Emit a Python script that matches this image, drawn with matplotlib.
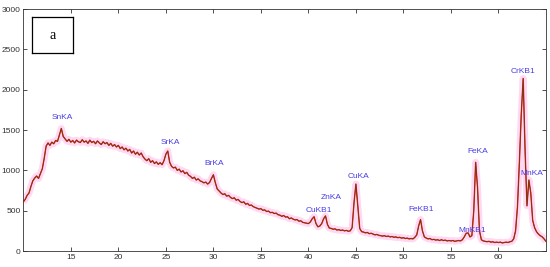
import numpy as np
import matplotlib
matplotlib.use("Agg")
import matplotlib.pyplot as plt

# energy grid (keV), 0.2 steps from 10 to 65
energy = np.round(np.arange(10.0, 65.01, 0.2), 1)

# counts, one value per energy step
counts = [
    610, 640, 690, 720, 800, 870, 905, 930, 900, 960,            # 10.0 - 11.8
    1020, 1150, 1300, 1340, 1310, 1350, 1330, 1370, 1360, 1440,  # 12.0 - 13.8
    1520, 1420, 1390, 1360, 1385, 1350, 1370, 1340, 1375, 1355,  # 14.0 - 15.8
    1345, 1380, 1350, 1365, 1335, 1375, 1345, 1360, 1330, 1365,  # 16.0 - 17.8
    1340, 1320, 1355, 1330, 1345, 1310, 1335, 1300, 1320, 1290,  # 18.0 - 19.8
    1310, 1270, 1290, 1255, 1275, 1240, 1260, 1215, 1240, 1200,  # 20.0 - 21.8
    1225, 1190, 1215, 1170, 1140, 1120, 1145, 1100, 1120, 1085,  # 22.0 - 23.8
    1105, 1075, 1095, 1070, 1120, 1200, 1240, 1100, 1050, 1030,  # 24.0 - 25.8
    1040, 1000, 1015, 980, 995, 960, 975, 940, 925, 900,         # 26.0 - 27.8
    915, 880, 895, 870, 860, 845, 855, 830, 850, 900,            # 28.0 - 29.8
    945, 850, 770, 745, 720, 700, 710, 680, 690, 665,            # 30.0 - 31.8
    650, 660, 630, 640, 615, 600, 610, 580, 590, 565,            # 32.0 - 33.8
    570, 550, 540, 530, 520, 525, 505, 510, 490, 495,            # 34.0 - 35.8
    475, 480, 465, 470, 450, 445, 430, 440, 420, 425,            # 36.0 - 37.8
    400, 410, 395, 385, 390, 370, 375, 355, 350, 345,            # 38.0 - 39.8
    340, 360, 400, 425, 340, 300, 310, 340, 400, 435,            # 40.0 - 41.8
    330, 285, 280, 270, 275, 260, 265, 255, 260, 250,            # 42.0 - 43.8
    255, 245, 250, 290, 600, 830, 560, 280, 240, 235,            # 44.0 - 45.8
    225, 230, 215, 220, 210, 200, 205, 195, 190, 185,            # 46.0 - 47.8
    190, 180, 185, 175, 180, 170, 175, 165, 170, 160,            # 48.0 - 49.8
    165, 155, 160, 150, 155, 150, 170, 200, 310, 390,            # 50.0 - 51.8
    250, 175, 160, 150, 155, 140, 145, 135, 140, 130,            # 52.0 - 53.8
    140, 130, 135, 125, 130, 125, 130, 120, 125, 130,            # 54.0 - 55.8
    125, 140, 175, 220, 225, 175, 190, 500, 1100, 780,           # 56.0 - 57.8
    250, 140, 125, 120, 115, 120, 110, 115, 105, 110,            # 58.0 - 59.8
    105, 110, 100, 105, 110, 105, 115, 120, 150, 250,            # 60.0 - 61.8
    550, 1100, 1700, 2140, 1250, 560, 880, 720, 380, 290,        # 62.0 - 63.8
    240, 210, 190, 175, 150, 120,                                # 64.0 - 65.0
]

# peak labels and where they sit
peak_names = ["SnKA", "SrKA", "BrKA", "CuKB1", "ZnKA", "CuKA",
              "FeKB1", "MnKB1", "FeKA", "CrKB1", "MnKA"]
peak_x = [14.1, 25.5, 30.1, 41.1, 42.4, 45.3, 51.9, 57.2, 57.8, 62.6, 63.5]
peak_y = [1650, 1350, 1090, 500, 660, 920, 510, 260, 1230, 2230, 955]

fig = plt.figure(figsize=(5.5, 2.67), dpi=100)
ax = fig.add_axes([0.0424, 0.0599, 0.9503, 0.9061])

# pink highlight band, red trace, dark trace on top
ax.plot(energy, counts, color="#ffd9f3", lw=5, solid_capstyle="butt", zorder=1)
ax.plot(energy, counts, color="#e8241c", lw=1.0, zorder=2)
ax.plot(energy, counts, color="#6b3a12", lw=0.55, zorder=3)

for name, px, py in zip(peak_names, peak_x, peak_y):
    ax.text(px, py, name, color="#4a3ee6", fontsize=6, ha="center", va="center",
            family="Liberation Sans", zorder=4)

ax.set_xlim(10, 65)
ax.set_ylim(0, 3000)
ax.set_xticks(range(15, 61, 5))
ax.set_yticks(range(0, 3001, 500))
ax.tick_params(direction="in", length=3, width=0.6, top=True, right=True,
               labelsize=6, colors="#333333", pad=2)
for lab in ax.get_xticklabels() + ax.get_yticklabels():
    lab.set_family("Liberation Sans")
for sp in ax.spines.values():
    sp.set_linewidth(0.6)
    sp.set_color("#333333")

# panel letter box
box = fig.add_axes([0.058, 0.801, 0.0745, 0.135])
box.set_xticks([])
box.set_yticks([])
for sp in box.spines.values():
    sp.set_linewidth(0.9)
box.text(0.5, 0.5, "a", ha="center", va="center", fontsize=10, family="Liberation Serif",
         transform=box.transAxes)

fig.savefig("out.png", dpi=100, facecolor="white")
